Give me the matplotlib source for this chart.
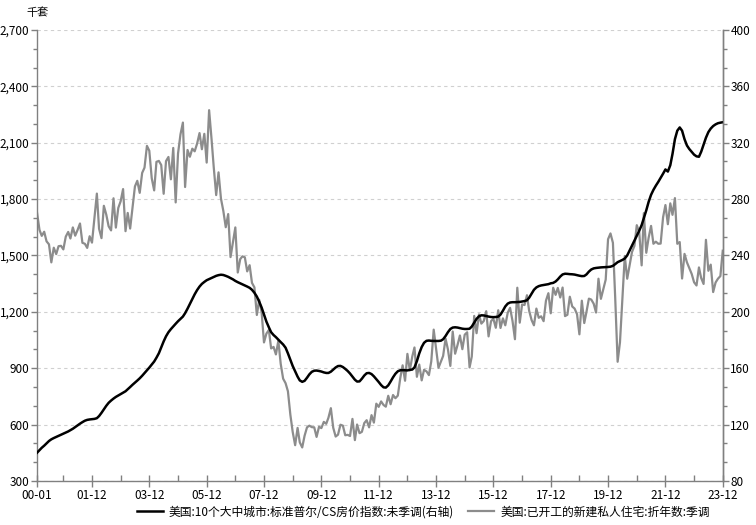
import numpy as np
import pandas as pd
import matplotlib
matplotlib.use("Agg")
import matplotlib.pyplot as plt
import matplotlib.dates as mdates
from matplotlib.ticker import FuncFormatter, MultipleLocator

plt.rcParams['font.family'] = ['Noto Sans CJK SC', 'DejaVu Sans']
plt.rcParams['axes.unicode_minus'] = False

# 月度数据 2000-01 .. 2023-12
months = pd.date_range('2000-01-01', '2023-12-01', freq='MS')

# 美国:已开工的新建私人住宅:折年数:季调 (千套, 左轴)
starts = [
    1727, 1636, 1604, 1626, 1575, 1559, 1463, 1541, 1507, 1549, 1551, 1532,  # 2000
    1600, 1625, 1590, 1649, 1605, 1636, 1670, 1567, 1562, 1540, 1602, 1568,  # 2001
    1698, 1829, 1642, 1592, 1764, 1717, 1655, 1633, 1804, 1648, 1753, 1788,  # 2002
    1853, 1629, 1726, 1643, 1751, 1867, 1897, 1833, 1939, 1967, 2083, 2057,  # 2003
    1911, 1846, 1998, 2003, 1981, 1828, 2002, 2024, 1905, 2072, 1782, 2042,  # 2004
    2144, 2207, 1864, 2061, 2025, 2068, 2054, 2095, 2151, 2065, 2147, 1994,  # 2005
    2273, 2119, 1969, 1821, 1942, 1802, 1737, 1650, 1720, 1491, 1570, 1649,  # 2006
    1409, 1480, 1495, 1490, 1415, 1448, 1354, 1330, 1183, 1264, 1197, 1037,  # 2007
    1084, 1103, 1005, 1013, 973, 1046, 923, 844, 820, 777, 652, 560,          # 2008
    490, 582, 505, 478, 540, 585, 594, 586, 585, 534, 588, 581,                # 2009
    614, 604, 636, 687, 583, 536, 546, 599, 594, 543, 545, 539,                # 2010
    630, 517, 600, 554, 561, 608, 623, 585, 650, 610, 711, 694,                # 2011
    723, 704, 695, 753, 708, 757, 740, 754, 847, 915, 833, 976,                # 2012
    888, 962, 1010, 854, 919, 835, 891, 883, 863, 936, 1105, 1003,             # 2013
    902, 935, 965, 1057, 1000, 912, 1095, 977, 1024, 1074, 1001, 1078,         # 2014
    1091, 904, 962, 1178, 1086, 1186, 1137, 1151, 1203, 1069, 1150, 1163,      # 2015
    1115, 1208, 1114, 1165, 1128, 1195, 1221, 1151, 1054, 1328, 1142, 1239,    # 2016
    1236, 1288, 1205, 1156, 1128, 1217, 1168, 1176, 1150, 1259, 1299, 1192,    # 2017
    1328, 1290, 1327, 1276, 1329, 1177, 1184, 1280, 1228, 1217, 1187, 1080,    # 2018
    1259, 1140, 1199, 1270, 1265, 1243, 1196, 1376, 1269, 1319, 1371, 1586,    # 2019
    1617, 1567, 1276, 934, 1038, 1273, 1497, 1376, 1448, 1518, 1551, 1661,     # 2020
    1625, 1447, 1725, 1514, 1594, 1657, 1562, 1573, 1562, 1563, 1703, 1768,    # 2021
    1666, 1777, 1716, 1805, 1562, 1571, 1377, 1508, 1463, 1432, 1401, 1357,    # 2022
    1340, 1436, 1380, 1348, 1583, 1418, 1451, 1305, 1356, 1376, 1390, 1525,    # 2023
]

# 美国:10个大中城市:标准普尔/CS房价指数:未季调 (右轴)
cs10 = [
    100.0, 101.8, 103.5, 105.0, 106.6, 108.3, 109.5, 110.4, 111.2, 112.0, 112.8, 113.6,  # 2000
    114.3, 115.1, 116.0, 117.0, 118.2, 119.4, 120.6, 121.7, 122.7, 123.3, 123.6, 123.8,  # 2001
    124.0, 124.5, 126.0, 128.3, 130.8, 133.3, 135.4, 137.0, 138.4, 139.6, 140.6, 141.5,  # 2002
    142.5, 143.6, 145.0, 146.6, 148.2, 149.7, 151.2, 152.8, 154.6, 156.5, 158.4, 160.4,  # 2003
    162.5, 164.7, 167.4, 170.6, 174.7, 179.0, 182.6, 185.5, 187.7, 189.6, 191.5, 193.3,  # 2004
    194.9, 196.6, 199.0, 202.2, 205.6, 209.0, 212.4, 215.4, 217.9, 219.8, 221.2, 222.4,  # 2005
    223.2, 224.0, 224.8, 225.5, 226.0, 226.3, 226.1, 225.5, 224.8, 223.9, 223.0, 221.9,  # 2006
    221.0, 220.2, 219.5, 218.7, 217.9, 217.0, 215.6, 213.5, 210.8, 207.2, 203.0, 198.0,  # 2007
    193.0, 189.0, 185.5, 183.5, 182.0, 180.2, 178.5, 176.8, 174.5, 170.5, 166.0, 161.5,  # 2008
    157.8, 154.0, 151.3, 150.3, 151.0, 153.2, 155.6, 157.4, 158.2, 158.3, 158.0, 157.6,  # 2009
    157.0, 156.6, 156.6, 157.5, 159.0, 160.5, 161.5, 161.6, 160.8, 159.5, 158.0, 156.2,  # 2010
    154.0, 151.8, 150.5, 150.6, 152.5, 154.8, 156.4, 156.6, 155.8, 154.2, 152.2, 150.2,  # 2011
    148.0, 146.4, 146.2, 147.8, 150.5, 153.5, 156.0, 157.8, 158.5, 158.6, 158.5, 158.4,  # 2012
    158.8, 159.0, 160.5, 165.0, 170.5, 175.0, 178.0, 179.4, 179.6, 179.4, 179.3, 179.3,  # 2013
    179.3, 179.5, 180.5, 182.8, 185.5, 187.8, 188.8, 189.0, 188.8, 188.4, 188.0, 187.8,  # 2014
    187.8, 188.0, 189.5, 192.3, 195.0, 196.8, 197.5, 197.4, 197.0, 196.6, 196.3, 196.2,  # 2015
    196.3, 196.6, 198.0, 200.8, 203.8, 205.8, 206.6, 206.8, 206.8, 206.9, 207.0, 207.3,  # 2016
    207.6, 208.2, 210.0, 212.8, 215.6, 217.3, 218.2, 218.7, 219.0, 219.3, 219.6, 220.2,  # 2017
    220.5, 221.5, 223.0, 225.0, 226.5, 227.0, 226.9, 226.7, 226.6, 226.4, 226.0, 225.6,  # 2018
    225.3, 225.4, 226.5, 228.5, 230.0, 230.8, 231.1, 231.3, 231.5, 231.6, 231.7, 231.8,  # 2019
    232.0, 232.6, 233.8, 235.2, 236.0, 236.8, 237.8, 240.0, 243.5, 247.0, 250.5, 254.0,  # 2020
    257.5, 261.5, 266.5, 272.0, 278.0, 283.0, 286.5, 289.5, 292.2, 295.0, 298.0, 301.0,  # 2021
    299.5, 304.0, 312.0, 322.5, 328.5, 330.8, 328.5, 322.5, 318.0, 315.5, 313.5, 311.5,  # 2022
    310.3, 310.0, 313.5, 318.5, 323.5, 327.5, 330.0, 331.8, 333.0, 333.8, 334.2, 334.5,  # 2023
]

tick_dates = pd.to_datetime(['2000-01-01'] + [f'{y}-12-01' for y in range(2001, 2024, 2)])
minor_dates = pd.to_datetime([f'{y}-12-01' for y in range(2000, 2023, 2)])

label_cs = '美国:10个大中城市:标准普尔/CS房价指数:未季调(右轴)'
label_st = '美国:已开工的新建私人住宅:折年数:季调'

fig = plt.figure(figsize=(7.56, 5.25), dpi=100)
ax1 = fig.add_axes([0.049, 0.084, 0.907, 0.859])
ax2 = ax1.twinx()

line_st, = ax1.plot(months, starts, color='#8c8c8c', lw=1.6, label=label_st)
line_cs, = ax2.plot(months, cs10, color='black', lw=1.8, label=label_cs)

axis_col = '#808080'
ax1.set_ylim(300, 2700)
ax1.yaxis.set_major_locator(MultipleLocator(300))
ax1.yaxis.set_minor_locator(MultipleLocator(100))
ax1.yaxis.set_major_formatter(FuncFormatter(lambda v, p: f'{int(v):,}'))
ax2.set_ylim(80, 400)
ax2.yaxis.set_major_locator(MultipleLocator(40))
ax2.yaxis.set_minor_locator(MultipleLocator(40 / 3))

ax1.set_xlim(months[0], months[-1])
ax1.set_xticks(tick_dates)
ax1.set_xticks(minor_dates, minor=True)
ax1.xaxis.set_major_formatter(mdates.DateFormatter('%y-%m'))

ax1.grid(axis='y', which='major', color='#d0d0d0', ls=(0, (3, 3)), lw=0.8)

for ax in (ax1, ax2):
    ax.spines['top'].set_visible(False)
    for s in ('left', 'right', 'bottom'):
        ax.spines[s].set_color(axis_col)
        ax.spines[s].set_linewidth(1.0)
    ax.tick_params(axis='both', which='major', labelsize=8.5, colors=axis_col,
                   labelcolor='black', length=4, width=1.0, pad=1.5)
    ax.tick_params(axis='both', which='minor', colors=axis_col, length=3, width=1.0)
ax1.tick_params(axis='x', which='major', direction='inout', length=8, pad=2)
ax1.tick_params(axis='x', which='minor', direction='in', length=4)
ax2.spines['left'].set_visible(False)
ax2.spines['bottom'].set_visible(False)

fig.text(0.035, 0.975, '千套', fontsize=8, ha='left', va='center')

fig.legend(handles=[line_cs, line_st], loc='center', bbox_to_anchor=(0.56, 0.025),
           ncol=2, frameon=False, fontsize=8.5, handlelength=2.2,
           columnspacing=1.2, handletextpad=0.5)

fig.savefig('out.png', dpi=100)
